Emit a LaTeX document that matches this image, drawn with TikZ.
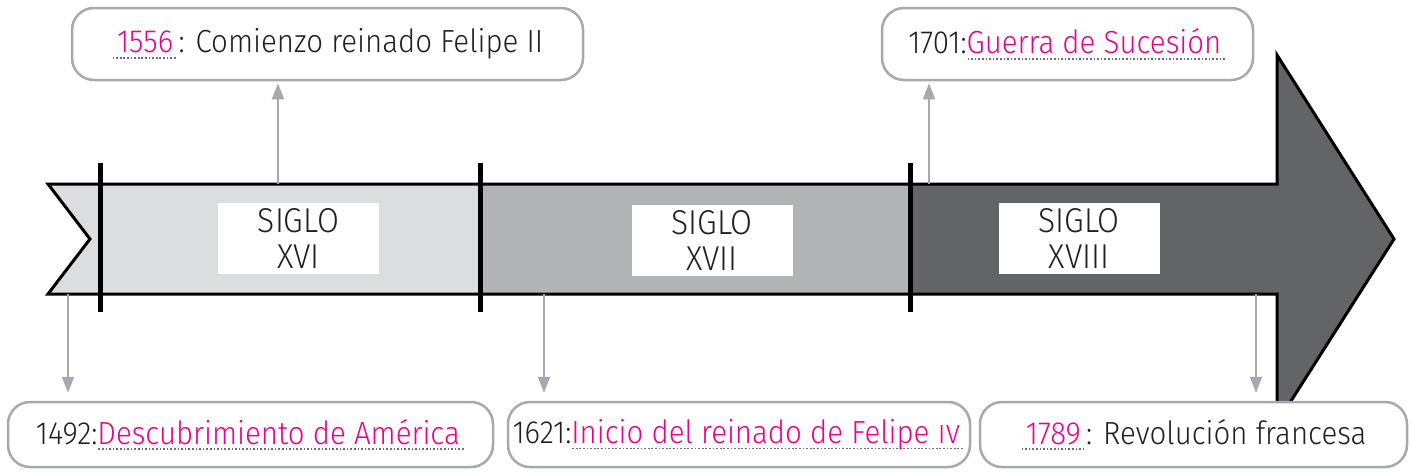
\documentclass[tikz,border=0pt]{standalone}
\usepackage{fontspec}
\setmainfont{Fira Sans}[UprightFont={* Light}, FakeStretch=0.92]
\usetikzlibrary{arrows.meta}
\definecolor{pinkt}{HTML}{EC008C}
\definecolor{boxgray}{HTML}{A7A9AC}
\definecolor{gA}{HTML}{DCDDDF}
\definecolor{gB}{HTML}{B1B3B5}
\definecolor{gC}{HTML}{636466}
\definecolor{txt}{HTML}{231F20}
\definecolor{dotc}{HTML}{6D6E71}
\newcommand\fillin[1]{\setbox0\hbox{#1}\rlap{\raisebox{-6pt}{\hbox to \wd0{\color{dotc}\leaders\hbox to 3.6pt{\hss\vrule width 1.7pt height 1.7pt\hss}\hfill}}}\box0}
\newcommand\pk[1]{\textcolor{pinkt}{#1}}
\begin{document}
\begin{tikzpicture}[x=1pt,y=-1pt,
  evbox/.style={draw=boxgray, line width=2.5pt, rounded corners=22pt, fill=white,
    minimum height=72pt, inner sep=0pt, text=txt, font=\fontsize{32}{36}\selectfont},
  siglo/.style={fill=white, inner sep=0pt, minimum width=161pt, minimum height=71pt,
    align=center, text=txt, font=\fontsize{34.5}{36}\selectfont},
  conn/.style={draw=boxgray, line width=2pt, -{Triangle[width=12pt,length=16pt]}},
  divider/.style={line width=5pt, black}
]
\useasboundingbox (0,0) rectangle (1411,475);
% bar sections
\fill[gA] (48,184) -- (480,184) -- (480,294) -- (48,294) -- (90,239) -- cycle;
\fill[gB] (480,184) rectangle (910,294);
\fill[gC] (910,184) -- (1277,184) -- (1277,55) -- (1394,239) -- (1277,423) -- (1277,294) -- (910,294) -- cycle;
\draw[black, line width=3pt, line join=miter] (48,184) -- (1277,184) -- (1277,55) -- (1394,239) -- (1277,423) -- (1277,294) -- (48,294) -- (90,239) -- cycle;
% dividers
\coordinate (d1t) at (100,163); \coordinate (d1b) at (100,312);
\coordinate (d2t) at (480,163); \coordinate (d2b) at (480,312);
\coordinate (d3t) at (910,163); \coordinate (d3b) at (910,312);
\draw[divider] (d1t) -- (d1b);
\draw[divider] (d2t) -- (d2b);
\draw[divider] (d3t) -- (d3b);
% century labels
\node[siglo] (s16) at (298.5,238.5) {SIGLO\\XVI};
\node[siglo] (s17) at (712,240.5) {SIGLO\\XVII};
\node[siglo] (s18) at (1079,238.5) {SIGLO\\XVIII};
% event boxes
\node[evbox, minimum width=511pt] (e1556) at (327.5,44) {\fillin{\pk{\,1556\,}} : Comienzo reinado Felipe II};
\node[evbox, minimum width=371pt] (e1701) at (1067.5,44) {1701:\fillin{\pk{Guerra de Sucesión\,}}};
\node[evbox, minimum width=485pt, minimum height=65pt] (e1492) at (250.5,434.5) {1492:\fillin{\pk{Descubrimiento de América\,}}};
\node[evbox, minimum width=462pt, minimum height=65pt] (e1621) at (739,434.5) {1621:\fillin{\pk{Inicio del reinado de Felipe \textsc{iv}\,}}};
\node[evbox, minimum width=427pt, minimum height=65pt] (e1789) at (1193.5,434.5) {\fillin{\pk{\,1789\,}} : Revolución francesa};
% connectors
\coordinate (c1556) at (278,184);
\coordinate (c1701) at (929,184);
\coordinate (c1492) at (68,294);
\coordinate (c1621) at (544,294);
\coordinate (c1789) at (1256,294);
\draw[conn, shorten >=2pt] (c1556) -- (c1556 |- e1556.south);
\draw[conn, shorten >=2pt] (c1701) -- (c1701 |- e1701.south);
\draw[conn, shorten >=8pt] (c1492) -- (c1492 |- e1492.north);
\draw[conn, shorten >=8pt] (c1621) -- (c1621 |- e1621.north);
\draw[conn, shorten >=8pt] (c1789) -- (c1789 |- e1789.north);
\end{tikzpicture}
\end{document}
